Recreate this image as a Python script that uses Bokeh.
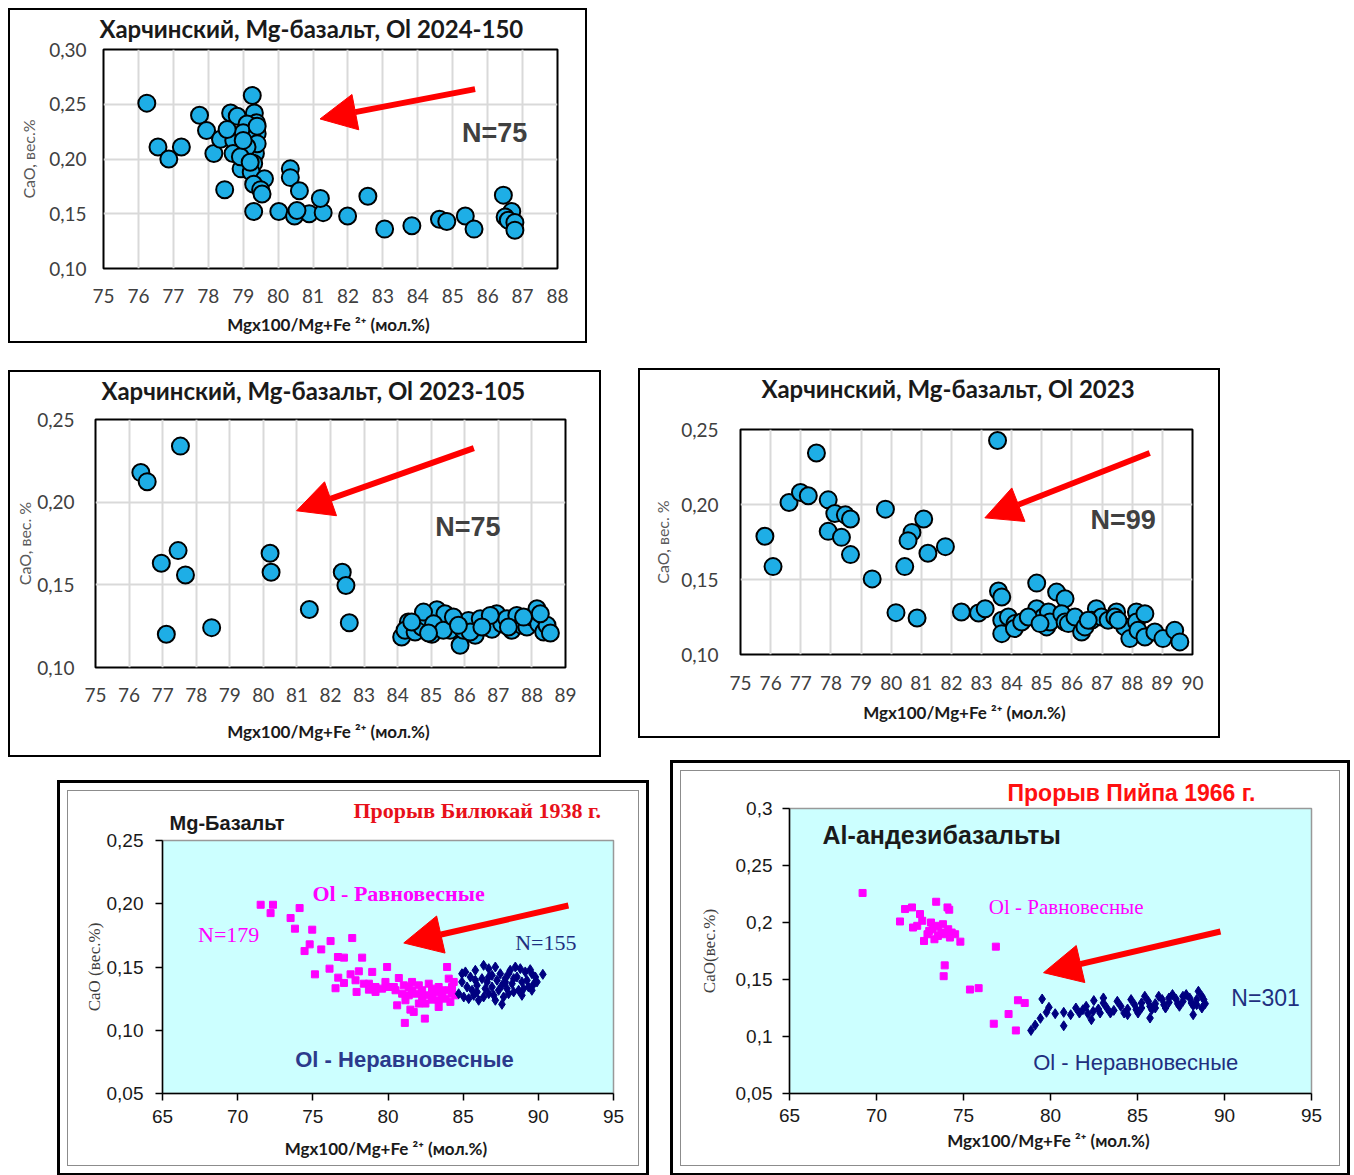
from bokeh.plotting import figure
from bokeh.models import Range1d, FixedTicker, CustomJSTickFormatter, Label, Arrow, NormalHead, Title
from bokeh.layouts import column, row
from bokeh.embed import file_html
from bokeh.resources import INLINE

# ---------------- data ----------------
# Panel 1: Харчинский, Mg-базальт, Ol 2024-150
p1_x = [76.24, 76.56, 76.87, 77.23, 77.75, 77.95, 78.16, 78.47, 78.35, 78.64,
        78.83, 78.73, 78.71, 78.94, 79.26, 79.32, 79.38, 79.23, 79.35, 79.30,
        79.23, 79.61, 79.30, 79.50, 79.54, 79.30, 79.11, 79.00, 78.54, 79.40,
        79.40, 79.11, 78.92, 80.35, 80.35, 80.61, 80.02, 80.47, 80.89, 81.29,
        81.21, 81.99, 82.57, 83.05, 83.83, 84.62, 84.83, 85.36, 85.61, 86.45,
        86.69, 86.50, 86.59, 86.78, 86.78, 80.54, 79.00, 79.20, 79.40]
p1_y = [0.251, 0.211, 0.200, 0.211, 0.240, 0.226, 0.205, 0.172, 0.218, 0.242,
        0.239, 0.217, 0.205, 0.191, 0.258, 0.242, 0.233, 0.220, 0.205, 0.196,
        0.188, 0.182, 0.177, 0.172, 0.168, 0.152, 0.232, 0.224, 0.227, 0.223,
        0.214, 0.211, 0.202, 0.191, 0.183, 0.171, 0.152, 0.148, 0.150, 0.151,
        0.164, 0.148, 0.166, 0.136, 0.139, 0.145, 0.143, 0.148, 0.136, 0.167,
        0.152, 0.147, 0.144, 0.142, 0.135, 0.153, 0.217, 0.197, 0.230]

# Panel 2: Харчинский, Mg-базальт, Ol 2023-105
p2_x = [77.53, 76.35, 76.54, 77.46, 76.96, 77.68, 77.11, 78.46, 80.20, 80.23,
        81.37, 82.35, 82.46, 82.56,
        84.12, 84.32, 84.22, 84.52, 84.72, 84.87, 85.02, 85.17, 85.27, 85.41,
        85.56, 85.71, 85.86, 85.96, 86.11, 86.31, 86.46, 86.61, 86.81, 86.95,
        87.10, 87.25, 87.40, 87.55, 87.70, 87.85, 88.00, 88.15, 88.20, 88.35,
        88.45, 88.55, 84.77, 85.07, 85.36, 85.66, 86.16, 86.76, 87.30, 87.75,
        88.25, 84.42, 84.92, 85.81, 86.51]
p2_y = [0.2339, 0.2179, 0.2124, 0.1707, 0.1631, 0.1560, 0.1201, 0.1241, 0.1691, 0.1576,
        0.1351, 0.1576, 0.1496, 0.1271,
        0.1185, 0.1275, 0.1225, 0.1215, 0.1245, 0.1305, 0.1201, 0.1349, 0.1265, 0.1325,
        0.1225, 0.1275, 0.1135, 0.1225, 0.1285, 0.1195, 0.1295, 0.1245, 0.1231, 0.1325,
        0.1265, 0.1295, 0.1225, 0.1315, 0.1255, 0.1245, 0.1305, 0.1355, 0.1265, 0.1215,
        0.1255, 0.1209, 0.1335, 0.1265, 0.1225, 0.1305, 0.1215, 0.1315, 0.1245, 0.1305,
        0.1325, 0.1275, 0.1209, 0.1255, 0.1245]

# Panel 3: Харчинский, Mg-базальт, Ol 2023
p3_x = [83.53, 77.52, 76.61, 76.99, 77.25, 77.91, 78.13, 78.48, 78.65, 77.91,
        78.35, 78.65, 75.81, 76.08, 79.37, 79.81, 81.08, 80.69, 80.56, 81.80,
        81.22, 80.45, 80.16, 80.86, 82.33, 82.90, 83.12, 83.56, 83.67, 83.67,
        83.67, 83.89, 84.11, 84.09, 84.33, 84.83, 84.83, 85.05, 85.22, 85.16,
        85.27, 85.49, 85.77, 85.66, 85.77, 85.88, 86.10, 86.32, 86.43, 86.81,
        86.65, 86.98, 87.20, 87.48, 87.42, 87.75, 87.92, 88.14, 88.14, 88.42,
        88.19, 88.42, 88.75, 89.02, 89.41, 89.58, 86.54, 87.53, 84.55, 84.94]
p3_y = [0.2427, 0.2343, 0.2013, 0.2080, 0.2058, 0.2031, 0.1940, 0.1931, 0.1903, 0.1821,
        0.1781, 0.1666, 0.1788, 0.1586, 0.1504, 0.1969, 0.1903, 0.1814, 0.1759, 0.1719,
        0.1675, 0.1586, 0.1279, 0.1243, 0.1283, 0.1277, 0.1305, 0.1423, 0.1383, 0.1228,
        0.1139, 0.1250, 0.1206, 0.1173, 0.1217, 0.1476, 0.1305, 0.1250, 0.1283, 0.1184,
        0.1217, 0.1416, 0.1372, 0.1272, 0.1217, 0.1206, 0.1250, 0.1150, 0.1184, 0.1305,
        0.1228, 0.1250, 0.1228, 0.1283, 0.1250, 0.1184, 0.1106, 0.1283, 0.1217, 0.1272,
        0.1161, 0.1117, 0.1150, 0.1106, 0.1161, 0.1084, 0.1228, 0.1228, 0.1250, 0.1206]

# Panel 4: Прорыв Билюкай 1938 г. (Ol равновесные / неравновесные)
p4_eq_x = [71.53, 72.35, 72.19, 74.12, 73.52, 73.81, 74.96, 74.79, 74.45, 75.56,
           76.18, 77.62, 76.67, 77.07, 78.28, 75.14, 76.11, 76.69, 77.07, 77.51,
           78.06, 78.95, 76.51, 77.91, 78.39, 78.73, 79.17, 79.61, 79.94, 79.83,
           80.05, 80.50, 80.72, 81.05, 81.38, 81.60, 82.05, 82.27, 82.71, 82.93,
           83.37, 83.60, 83.93, 84.04, 84.26, 84.48, 80.61, 81.16, 81.49, 81.71,
           82.05, 82.49, 82.93, 83.37, 83.82, 84.15, 81.12, 82.45, 78.73, 79.17,
           80.39, 80.94, 81.38, 81.83, 82.27, 82.71, 83.15, 83.60, 84.04, 84.37,
           81.60, 82.93, 83.37, 84.26, 77.84]
p4_eq_y = [0.1992, 0.1992, 0.1926, 0.1966, 0.1887, 0.1803, 0.1795, 0.1679, 0.1626, 0.1639,
           0.1705, 0.1729, 0.1579, 0.1574, 0.1574, 0.1442, 0.1487, 0.1416, 0.1374, 0.1442,
           0.1466, 0.1461, 0.1332, 0.1303, 0.1368, 0.1321, 0.1303, 0.1329, 0.1500, 0.1382,
           0.1342, 0.1316, 0.1413, 0.1355, 0.1342, 0.1382, 0.1355, 0.1316, 0.1368, 0.1289,
           0.1342, 0.1276, 0.1500, 0.1408, 0.1342, 0.1276, 0.1197, 0.1237, 0.1163, 0.1145,
           0.1211, 0.1211, 0.1242, 0.1184, 0.1250, 0.1224, 0.1058, 0.1092, 0.1368, 0.1342,
           0.1342, 0.1289, 0.1276, 0.1289, 0.1263, 0.1276, 0.1303, 0.1316, 0.1316, 0.1382,
           0.1316, 0.1329, 0.1237, 0.1289, 0.1395]
p4_neq_x = [85.15, 85.48, 85.81, 86.36, 86.70, 87.14, 87.47, 87.80, 88.13, 88.47,
            88.80, 89.13, 89.46, 89.80, 90.30, 89.68, 89.35, 88.91, 88.58, 88.25,
            87.91, 87.58, 87.25, 86.92, 86.59, 86.25, 85.92, 85.59, 85.26, 84.92,
            84.70, 85.04, 85.37, 85.70, 86.03, 86.36, 86.70, 87.03, 87.36, 87.69,
            87.58, 88.02, 88.36, 88.69, 89.02, 89.57, 86.70, 85.81, 87.80, 89.24,
            84.92, 86.92, 88.36, 89.91, 86.47, 85.92, 87.14, 88.91, 88.02, 89.57]
p4_neq_y = [0.1461, 0.1421, 0.1474, 0.1513, 0.1487, 0.1500, 0.1447, 0.1408, 0.1474, 0.1500,
            0.1487, 0.1461, 0.1479, 0.1421, 0.1442, 0.1363, 0.1342, 0.1382, 0.1421, 0.1368,
            0.1329, 0.1355, 0.1395, 0.1342, 0.1382, 0.1408, 0.1355, 0.1316, 0.1342, 0.1382,
            0.1289, 0.1263, 0.1250, 0.1276, 0.1237, 0.1263, 0.1289, 0.1276, 0.1316, 0.1263,
            0.1205, 0.1289, 0.1303, 0.1316, 0.1329, 0.1316, 0.1421, 0.1395, 0.1382, 0.1395,
            0.1447, 0.1434, 0.1408, 0.1382, 0.1329, 0.1303, 0.1237, 0.1276, 0.1447, 0.1447]

# Panel 5: Прорыв Пийпа 1966 г.
p5_eq_x = [69.20, 71.64, 72.04, 72.50, 73.43, 74.08, 74.18, 71.35, 72.10, 72.63,
           73.13, 73.53, 73.82, 74.12, 74.52, 72.73, 73.33, 73.72, 74.22, 72.93,
           73.23, 73.92, 74.82, 76.86, 73.92, 73.86, 75.37, 75.87, 78.13, 78.52,
           77.59, 76.74, 78.01, 72.34, 73.53, 73.03, 74.32]
p5_eq_y = [0.2259, 0.2118, 0.2132, 0.2074, 0.2182, 0.2132, 0.2112, 0.2009, 0.1956, 0.2015,
           0.2000, 0.1971, 0.1985, 0.1941, 0.1897, 0.1838, 0.1853, 0.1912, 0.1868, 0.1897,
           0.1941, 0.1897, 0.1832, 0.1788, 0.1624, 0.1529, 0.1412, 0.1424, 0.1318, 0.1294,
           0.1197, 0.1112, 0.1053, 0.1971, 0.1882, 0.1926, 0.1912]
p5_neq_x = [78.88, 79.12, 79.42, 79.52, 79.77, 79.91, 80.27, 80.76, 80.76, 81.16,
            81.46, 81.86, 82.15, 82.35, 82.49, 83.04, 82.75, 83.24, 83.64, 84.04,
            84.43, 84.83, 85.23, 85.62, 86.02, 86.42, 86.81, 87.21, 87.61, 88.00,
            88.40, 88.70, 88.89, 88.50, 88.20, 85.72, 83.44, 84.23, 85.03, 85.82,
            86.61, 87.41, 88.20, 85.42, 86.22, 87.01, 87.80, 88.80, 83.04, 83.84,
            84.63, 81.66, 82.05, 82.45, 82.85, 84.43, 85.23, 86.02, 86.81, 87.61,
            88.40, 88.70, 88.10, 87.31, 86.52, 85.72, 84.93]
p5_neq_y = [0.1053, 0.1100, 0.1159, 0.1329, 0.1212, 0.1256, 0.1200, 0.1212, 0.1094, 0.1191,
            0.1250, 0.1235, 0.1200, 0.1147, 0.1315, 0.1338, 0.1241, 0.1250, 0.1229, 0.1265,
            0.1241, 0.1279, 0.1250, 0.1309, 0.1288, 0.1324, 0.1300, 0.1329, 0.1309, 0.1338,
            0.1324, 0.1353, 0.1288, 0.1397, 0.1191, 0.1162, 0.1206, 0.1206, 0.1206, 0.1235,
            0.1250, 0.1265, 0.1271, 0.1353, 0.1353, 0.1368, 0.1368, 0.1324, 0.1294, 0.1309,
            0.1324, 0.1206, 0.1265, 0.1221, 0.1206, 0.1191, 0.1294, 0.1250, 0.1338, 0.1353,
            0.1279, 0.1250, 0.1294, 0.1288, 0.1279, 0.1265, 0.1235]

# ticks and tick labels
p1_xticks = list(range(75, 89))
p1_yticks = [0.10, 0.15, 0.20, 0.25, 0.30]
p1_ylabels = ["0,10", "0,15", "0,20", "0,25", "0,30"]
p2_xticks = list(range(75, 90))
p3_xticks = list(range(75, 91))
p23_yticks = [0.10, 0.15, 0.20, 0.25]
p23_ylabels = ["0,10", "0,15", "0,20", "0,25"]
p4_xticks = [65, 70, 75, 80, 85, 90, 95]
p4_yticks = [0.05, 0.10, 0.15, 0.20, 0.25]
p4_ylabels = ["0,05", "0,10", "0,15", "0,20", "0,25"]
p5_xticks = [65, 70, 75, 80, 85, 90, 95]
p5_yticks = [0.05, 0.10, 0.15, 0.20, 0.25, 0.30]
p5_ylabels = ["0,05", "0,1", "0,15", "0,2", "0,25", "0,3"]

XLABEL = "Mgx100/Mg+Fe \u00b2\u207a  (мол.%)"

SANS_C = "Lato"
ARIAL = "Liberation Sans"
TIMES = "Liberation Serif"


def label_formatter(ticks, labels):
    return CustomJSTickFormatter(
        args=dict(t=ticks, l=labels),
        code="const i = t.findIndex(v => Math.abs(v - tick) < 1e-9); return i >= 0 ? l[i] : '';")


def top_panel(title, title_offset, spacer, xs, ys, xr, yr, xticks, yticks, ylabels, ylab,
              w, h, bl, br, bt, bb, margin, ytick_standoff, ylab_standoff, xtick_standoff,
              xlab_standoff, ntext, npos, arr):
    p = figure(width=w, height=h, x_range=Range1d(*xr), y_range=Range1d(*yr),
               output_backend="svg", toolbar_location=None,
               min_border_left=bl, min_border_right=br, min_border_top=bt, min_border_bottom=bb,
               margin=margin)
    p.frame_align = False
    # real title (outer) and a blank spacer title between it and the frame
    p.title.text = title
    p.title.text_font = SANS_C
    p.title.text_font_style = "bold"
    p.title.text_font_size = "24px"
    p.title.text_color = "#1a1a1a"
    p.title.align = "left"
    p.title.offset = title_offset
    p.title.standoff = 2
    p.add_layout(Title(text=" ", text_font_size="1px", standoff=spacer), "above")
    p.xgrid.ticker = FixedTicker(ticks=xticks)
    p.ygrid.ticker = FixedTicker(ticks=yticks)
    p.xgrid.grid_line_color = "#d9d9d9"
    p.ygrid.grid_line_color = "#d9d9d9"
    p.xgrid.grid_line_width = 2
    p.ygrid.grid_line_width = 2
    p.xaxis.ticker = FixedTicker(ticks=xticks)
    p.yaxis.ticker = FixedTicker(ticks=yticks)
    p.yaxis.formatter = label_formatter(yticks, ylabels)
    for ax in (p.xaxis, p.yaxis):
        ax.axis_line_color = None
        ax.major_tick_line_color = None
        ax.minor_tick_line_color = None
        ax.major_tick_out = 0
        ax.major_tick_in = 0
        ax.major_label_text_font = SANS_C
        ax.major_label_text_font_size = "19px"
        ax.major_label_text_color = "#404040"
    p.yaxis.major_label_standoff = ytick_standoff
    p.xaxis.major_label_standoff = xtick_standoff
    p.xaxis.axis_label = XLABEL
    p.xaxis.axis_label_text_font = SANS_C
    p.xaxis.axis_label_text_font_style = "bold"
    p.xaxis.axis_label_text_font_size = "17px"
    p.xaxis.axis_label_text_color = "#1a1a1a"
    p.xaxis.axis_label_standoff = xlab_standoff
    p.yaxis.axis_label = ylab
    p.yaxis.axis_label_text_font = SANS_C
    p.yaxis.axis_label_text_font_style = "normal"
    p.yaxis.axis_label_text_font_size = "16px"
    p.yaxis.axis_label_text_color = "#595959"
    p.yaxis.axis_label_standoff = ylab_standoff
    p.outline_line_color = "black"
    p.outline_line_width = 2
    p.scatter(xs, ys, marker="circle", size=17, fill_color="#1eaee6",
              line_color="black", line_width=2)
    p.add_layout(Arrow(end=NormalHead(size=36, fill_color="red", line_color="red"),
                       x_start=arr[0], y_start=arr[1], x_end=arr[2], y_end=arr[3],
                       line_color="red", line_width=6))
    p.add_layout(Label(x=npos[0], y=npos[1], text=ntext, text_font=ARIAL,
                       text_font_style="bold", text_font_size="27px", text_color="#404040",
                       text_align="center", text_baseline="middle"))
    p.styles = {"box-shadow": "0 0 0 2px black"}
    return p


fig1 = top_panel("Харчинский, Mg-базальт, Ol 2024-150", -4, 3, p1_x, p1_y, (75, 88), (0.10, 0.30),
                 p1_xticks, p1_yticks, p1_ylabels, "CaO, вес.%",
                 575, 331, 93, 28, 38, 73, (10, 0, 0, 10), 17, 8, 20, 8,
                 "N=75", (86.2, 0.224), (85.64, 0.2638, 81.2, 0.2366))
fig2 = top_panel("Харчинский, Mg-базальт, Ol 2023-105", 6, 11, p2_x, p2_y, (75, 89), (0.10, 0.25),
                 p2_xticks, p23_yticks, p23_ylabels, "CaO, вес. %",
                 589, 383, 85, 34, 46, 88, (31, 0, 0, 10), 21, 0, 20, 16,
                 "N=75", (86.09, 0.185), (86.27, 0.2327, 80.99, 0.1948))
fig3 = top_panel("Харчинский, Mg-базальт, Ol 2023", 21, 23, p3_x, p3_y, (75, 90), (0.10, 0.25),
                 p3_xticks, p23_yticks, p23_ylabels, "CaO, вес. %",
                 578, 366, 100, 26, 58, 82, (29, 0, 0, 41), 22, 6, 21, 9,
                 "N=99", (87.7, 0.1898), (88.58, 0.2343, 83.11, 0.1911))


def bottom_panel(xs_eq, ys_eq, xs_neq, ys_neq, xr, yr, xticks, yticks, ylabels, ylab,
                 w, h, bl, br, bt, bb, margin, ylab_standoff, ytick_standoff, xtick_standoff,
                 xlab_standoff):
    p = figure(width=w, height=h, x_range=Range1d(*xr), y_range=Range1d(*yr),
               output_backend="svg", toolbar_location=None,
               min_border_left=bl, min_border_right=br, min_border_top=bt, min_border_bottom=bb,
               margin=margin)
    p.frame_align = False
    p.background_fill_color = "#ccffff"
    p.xgrid.visible = False
    p.ygrid.visible = False
    p.xaxis.ticker = FixedTicker(ticks=xticks)
    p.yaxis.ticker = FixedTicker(ticks=yticks)
    p.yaxis.formatter = label_formatter(yticks, ylabels)
    for ax in (p.xaxis, p.yaxis):
        ax.axis_line_color = "black"
        ax.axis_line_width = 1.5
        ax.major_tick_line_color = "black"
        ax.major_tick_line_width = 1.5
        ax.major_tick_out = 7
        ax.major_tick_in = 0
        ax.minor_tick_line_color = None
        ax.major_label_text_font = ARIAL
        ax.major_label_text_font_size = "19px"
        ax.major_label_text_color = "#1a1a1a"
    p.yaxis.major_label_standoff = ytick_standoff
    p.xaxis.major_label_standoff = xtick_standoff
    p.xaxis.axis_label = XLABEL
    p.xaxis.axis_label_text_font = SANS_C
    p.xaxis.axis_label_text_font_style = "bold"
    p.xaxis.axis_label_text_font_size = "17px"
    p.xaxis.axis_label_text_color = "#1a1a1a"
    p.xaxis.axis_label_standoff = xlab_standoff
    p.yaxis.axis_label = ylab
    p.yaxis.axis_label_text_font = TIMES
    p.yaxis.axis_label_text_font_style = "normal"
    p.yaxis.axis_label_text_font_size = "17px"
    p.yaxis.axis_label_text_color = "#404040"
    p.yaxis.axis_label_standoff = ylab_standoff
    p.outline_line_color = "#999999"
    p.outline_line_width = 1.5
    p.scatter(xs_eq, ys_eq, marker="square", size=7, fill_color="#ff00ff", line_color="#ff00ff")
    p.scatter(xs_neq, ys_neq, marker="diamond", size=10, fill_color="#000080", line_color="#000080")
    p.styles = {"box-shadow": "0 0 0 1px #8c8c8c, 0 0 0 8px white, 0 0 0 11px black"}
    return p


fig4 = bottom_panel(p4_eq_x, p4_eq_y, p4_neq_x, p4_neq_y, (65, 95), (0.05, 0.25),
                    p4_xticks, p4_yticks, p4_ylabels, "CaO (вес.%)",
                    570, 374, 94, 25, 49, 72, (36, 0, 0, 68), 0, 12, 9, 12)
# outer title: the eruption name; inner title (closer to the frame): rock type
fig4.title.text = "Прорыв Билюкай 1938 г."
fig4.title.text_font = TIMES
fig4.title.text_font_style = "bold"
fig4.title.text_font_size = "22px"
fig4.title.text_color = "#e8101a"
fig4.title.align = "left"
fig4.title.offset = 191
fig4.title.standoff = -40
fig4.add_layout(Title(text="Mg-Базальт", text_font=ARIAL, text_font_style="bold",
                      text_font_size="20px", text_color="#1a1a1a", align="left",
                      offset=7, standoff=14), "above")
fig4.add_layout(Label(x=80.7, y=0.208, text="Ol - Равновесные", text_font=TIMES, text_font_style="bold",
                      text_font_size="22px", text_color="#ff00ff", text_align="center",
                      text_baseline="middle"))
fig4.add_layout(Label(x=69.4, y=0.176, text="N=179", text_font=TIMES,
                      text_font_size="22px", text_color="#ff00ff", text_align="center",
                      text_baseline="middle"))
fig4.add_layout(Label(x=90.5, y=0.169, text="N=155", text_font=TIMES,
                      text_font_size="22px", text_color="#1f2f80", text_align="center",
                      text_baseline="middle"))
fig4.add_layout(Label(x=81.1, y=0.077, text="Ol - Неравновесные", text_font=ARIAL, text_font_style="bold",
                      text_font_size="22px", text_color="#2b3a8c", text_align="center",
                      text_baseline="middle"))
fig4.add_layout(Arrow(end=NormalHead(size=38, fill_color="red", line_color="red"),
                      x_start=92.0, y_start=0.1986, x_end=81.05, y_end=0.169,
                      line_color="red", line_width=6))

fig5 = bottom_panel(p5_eq_x, p5_eq_y, p5_neq_x, p5_neq_y, (65, 95), (0.05, 0.30),
                    p5_xticks, p5_yticks, p5_ylabels, "CaO(вес.%)",
                    658, 394, 108, 28, 37, 72, (16, 0, 0, 43), 14, 10, 8, 5)
fig5.title.text = "Прорыв Пийпа 1966 г."
fig5.title.text_font = ARIAL
fig5.title.text_font_style = "bold"
fig5.title.text_font_size = "23px"
fig5.title.text_color = "#ff1010"
fig5.title.align = "left"
fig5.title.offset = 218
fig5.title.standoff = 6
fig5.add_layout(Label(x=66.9, y=0.277, text="Al-андезибазальты", text_font=ARIAL,
                      text_font_style="bold", text_font_size="25px", text_color="#1a1a1a",
                      text_baseline="middle"))
fig5.add_layout(Label(x=80.9, y=0.2132, text="Ol - Равновесные", text_font=TIMES,
                      text_font_size="21px", text_color="#ff00ff", text_align="center",
                      text_baseline="middle"))
fig5.add_layout(Label(x=92.36, y=0.1342, text="N=301", text_font=ARIAL,
                      text_font_size="23px", text_color="#1f2f80", text_align="center",
                      text_baseline="middle"))
fig5.add_layout(Label(x=84.9, y=0.0768, text="Ol - Неравновесные", text_font=ARIAL,
                      text_font_size="22px", text_color="#1f2f80", text_align="center",
                      text_baseline="middle"))
fig5.add_layout(Arrow(end=NormalHead(size=38, fill_color="red", line_color="red"),
                      x_start=89.77, y_start=0.1921, x_end=79.6, y_end=0.156,
                      line_color="red", line_width=6))

layout = column(row(fig1), row(fig2, fig3), row(fig4, fig5))

with open("out.html", "w") as f:
    f.write(file_html(layout, INLINE))
